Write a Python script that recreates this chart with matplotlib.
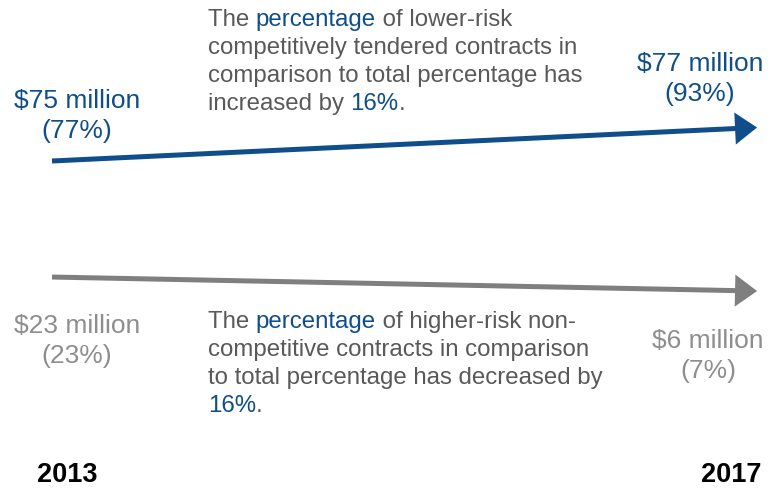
import matplotlib
matplotlib.use('Agg')
import matplotlib.pyplot as plt

plt.rcParams['font.family'] = ['Liberation Sans', 'DejaVu Sans']

years = [2013, 2017]
lower_pct = [77, 93]
lower_amt = ['$75 million', '$77 million']
higher_pct = [23, 7]
higher_amt = ['$23 million', '$6 million']
change = 16

blue = '#0F4E8A'
grey_arrow = '#7F7F7F'
grey_lbl = '#8E8E8E'
txt = '#595959'
fs = 19
pfs = 17.3

fig = plt.figure(figsize=(7.74, 4.88), dpi=100)

# text layer in pixel coords
ax = fig.add_axes([0, 0, 1, 1])
ax.set_xlim(0, 774)
ax.set_ylim(488, 0)
ax.axis('off')

# arrow layers, x = year, y = percentage
ax_lo = fig.add_axes([0, 0, 1, 1], facecolor='none')
ax_lo.set_xlim(2012.705, 2017.096)
ax_lo.set_ylim(-79.2, 153.9)
ax_lo.axis('off')
ax_hi = fig.add_axes([0, 0, 1, 1], facecolor='none')
ax_hi.set_xlim(2012.705, 2017.096)
ax_hi.set_ylim(-218.1, 339.6)
ax_hi.axis('off')

for a, pct, col in [(ax_lo, lower_pct, blue), (ax_hi, higher_pct, grey_arrow)]:
    a.annotate('', xy=(years[1], pct[1]), xytext=(years[0], pct[0]),
               arrowprops=dict(arrowstyle='-|>,head_length=0.55,head_width=0.4',
                               mutation_scale=20, lw=3.6, color=col,
                               shrinkA=0, shrinkB=0, capstyle='butt',
                               joinstyle='miter'))


def rich_line(x, y, parts):
    t = ax.text(x, y, parts[0][0], color=parts[0][1], fontsize=pfs,
                ha='left', va='center')
    for s, c in parts[1:]:
        t = ax.annotate(s, xy=(1, 0), xycoords=t, color=c, fontsize=pfs,
                        ha='left', va='bottom')


pw = 'percentage'
rich_line(208, 20, [('The ', txt), (pw, blue), (' of lower-risk', txt)])
rich_line(208, 48, [('competitively tendered contracts in', txt)])
rich_line(208, 76, [('comparison to total percentage has', txt)])
rich_line(208, 104, [('increased by ', txt), (f'{change}%', blue), ('.', txt)])

rich_line(208, 322, [('The ', txt), (pw, blue), (' of higher-risk non-', txt)])
rich_line(208, 350, [('competitive contracts in comparison', txt)])
rich_line(208, 378, [('to total percentage has decreased by', txt)])
rich_line(208, 406, [(f'{change}%', blue), ('.', txt)])

lab = dict(fontsize=fs, ha='center', va='center', multialignment='center',
           linespacing=1.3)
ax.text(77, 116, f'{lower_amt[0]}\n({lower_pct[0]}%)', color=blue, **lab)
ax.text(700, 79, f'{lower_amt[1]}\n({lower_pct[1]}%)', color=blue, **lab)
ax.text(77, 341, f'{higher_amt[0]}\n({higher_pct[0]}%)', color=grey_lbl, **lab)
ax.text(708, 356, f'{higher_amt[1]}\n({higher_pct[1]}%)', color=grey_lbl, **lab)

ax.text(67, 475, str(years[0]), fontsize=19.5, fontweight='bold', color='black',
        ha='center', va='center')
ax.text(731, 475, str(years[1]), fontsize=19.5, fontweight='bold', color='black',
        ha='center', va='center')

fig.savefig('out.png', dpi=100)
